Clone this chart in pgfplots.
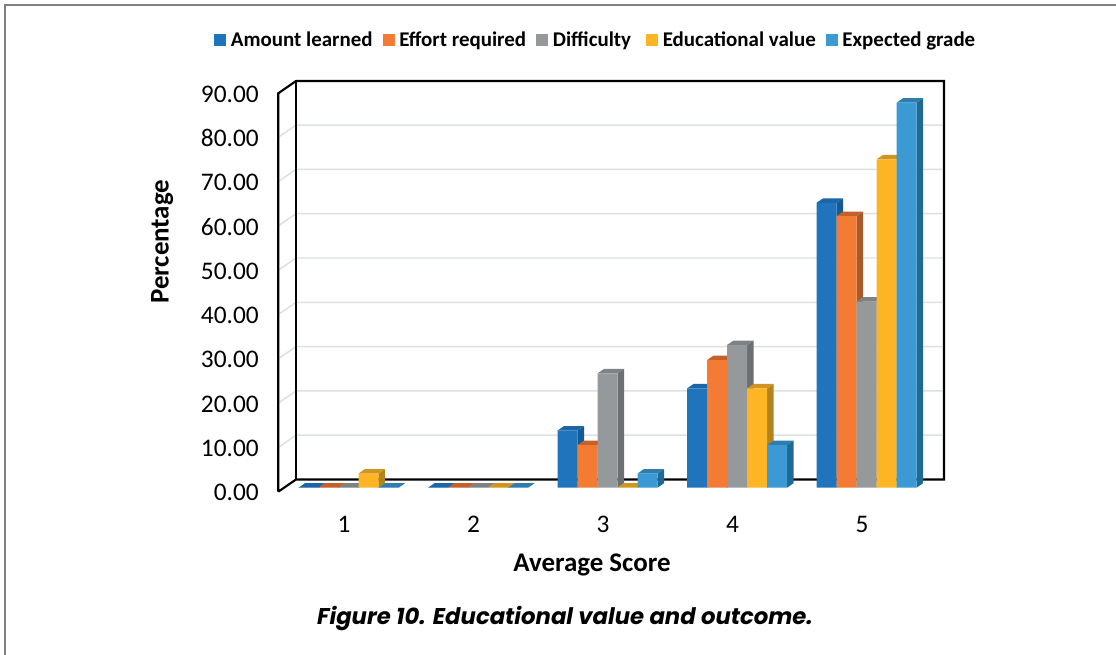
\documentclass[border=0pt]{standalone}
\usepackage{fontspec}
\setmainfont{Carlito}
\newfontfamily\capfont{Poppins}
\usepackage{pgfplots}
\pgfplotsset{compat=1.18}
\pgfplotsset{sq legend/.style={legend image code/.code={\fill[##1] (0pt,-4.5pt) rectangle (9pt,4.5pt);}}}
\definecolor{cA}{HTML}{1F74BC}\definecolor{cAt}{HTML}{1A66A8}\definecolor{cAs}{HTML}{155A93}
\definecolor{cB}{HTML}{F47B34}\definecolor{cBt}{HTML}{C4602A}\definecolor{cBs}{HTML}{A85A28}
\definecolor{cC}{HTML}{95999C}\definecolor{cCt}{HTML}{7E8285}\definecolor{cCs}{HTML}{6D7072}
\definecolor{cD}{HTML}{FDB525}\definecolor{cDt}{HTML}{CF9520}\definecolor{cDs}{HTML}{B3831E}
\definecolor{cE}{HTML}{3B99D4}\definecolor{cEt}{HTML}{2D7EAE}\definecolor{cEs}{HTML}{1F6A95}
\definecolor{gridc}{HTML}{DCE0E1}
\newcommand{\face}[5]{%
  \pgfmathsetmacro\xl{#1-0.3514+#2*0.15444}%
  \pgfmathsetmacro\xr{\xl+0.15444}%
  \pgfmathsetmacro\xlb{\xl+0.0502}%
  \pgfmathsetmacro\xrb{\xr+0.0502}%
  \pgfmathsetmacro\vb{#3+1.016}%
  \addplot[fill=#5,draw=none,forget plot] coordinates {(\xr,0)(\xrb,1.016)(\xrb,\vb)(\xr,#3)} --cycle;
  \addplot[fill=#4,draw=none,forget plot] coordinates {(\xl,#3)(\xlb,\vb)(\xrb,\vb)(\xr,#3)} --cycle;
}
\newcommand{\faces}[8]{%
  \face{1}{#1}{#2}{#7}{#8}\face{2}{#1}{#3}{#7}{#8}\face{3}{#1}{#4}{#7}{#8}\face{4}{#1}{#5}{#7}{#8}\face{5}{#1}{#6}{#7}{#8}%
}
\newcommand{\grid}[1]{%
  \pgfmathsetmacro\gf{#1-0.9}\pgfmathsetmacro\gb{#1+1.85}%
  \addplot[gridc,line width=1.1pt,forget plot] coordinates {(0.4927,\gf)(0.6293,\gb)(5.62,\gb)};
}
\begin{document}
\begin{tikzpicture}
\path[use as bounding box] (0,0) rectangle (837pt,491.25pt);
\draw[color=black!50,line width=1pt] (3.8pt,0) -- (3.8pt,487.5pt) -- (837pt,487.5pt);
\begin{axis}[
  at={(208.725pt,122.475pt)},anchor=south west,
  scale only axis,width=499.275pt,height=302.025pt,
  xmin=0.4927,xmax=5.633,ymin=-0.9,ymax=90,
  clip=false,
  axis line style={draw=none},
  axis x line*=bottom,axis y line*=left,
  major tick length=0pt,minor tick length=0pt,
  ytick={0,10,...,90},
  xtick={1,2,3,4,5},xticklabels={1,2,3,4,5},
  tick label style={font=\fontsize{19}{19}\selectfont,black},
  /pgf/number format/assume math mode=true,
  y tick label style={/pgf/number format/fixed,/pgf/number format/fixed zerofill,/pgf/number format/precision=2,inner sep=0pt,anchor=east,xshift=-14.5pt,yshift=-3.8pt},
  x tick label style={inner sep=0pt,anchor=center,yshift=-24.7pt},
  xlabel={Average Score},ylabel={Percentage},
  every axis x label/.style={at={(axis description cs:0.4712,-0.183)},anchor=center,font=\fontsize{20.2}{20.2}\selectfont\bfseries},
  every axis y label/.style={at={(axis description cs:-0.1745,0.6206)},anchor=center,rotate=90,font=\fontsize{20.2}{20.2}\selectfont\bfseries},
  legend columns=-1,
  legend style={at={(-0.0966,1.1215)},anchor=west,draw=none,fill=none,inner sep=0pt,font=\fontsize{15.7}{15.7}\selectfont\bfseries,
    /tikz/every even column/.append style={column sep=5.5pt},
    /tikz/every odd column/.append style={column sep=1.5pt}},
  legend cell align=left,
]
\grid{10}\grid{20}\grid{30}\grid{40}\grid{50}\grid{60}\grid{70}\grid{80}
\addplot[black,line width=1.6pt,forget plot,line join=miter] coordinates {(0.4927,-0.9)(0.4927,89.03)(0.6293,91.8)(5.633,91.8)(5.633,1.85)(0.6293,1.85)(0.4927,-0.9)};
\addplot[black,line width=1.6pt,forget plot] coordinates {(0.6293,1.85)(0.6293,91.8)};
\faces{0}{0}{0}{12.9}{22.4}{64.3}{cAt}{cAs}
\addplot[ybar,bar width=15pt,bar shift=-26.625pt,fill=cA,draw=none,sq legend] coordinates {(1,0)(2,0)(3,12.9)(4,22.4)(5,64.3)};
\addlegendentry{Amount learned}
\faces{1}{0}{0}{9.6}{28.8}{61.3}{cBt}{cBs}
\addplot[ybar,bar width=15pt,bar shift=-11.625pt,fill=cB,draw=none,sq legend] coordinates {(1,0)(2,0)(3,9.6)(4,28.8)(5,61.3)};
\addlegendentry{Effort required}
\faces{2}{0}{0}{25.8}{32.2}{42.0}{cCt}{cCs}
\addplot[ybar,bar width=15pt,bar shift=3.375pt,fill=cC,draw=none,sq legend] coordinates {(1,0)(2,0)(3,25.8)(4,32.2)(5,42.0)};
\addlegendentry{Difficulty\rule{3.8pt}{0pt}}
\faces{3}{3.2}{0}{0}{22.4}{74.1}{cDt}{cDs}
\addplot[ybar,bar width=15pt,bar shift=18.375pt,fill=cD,draw=none,sq legend] coordinates {(1,3.2)(2,0)(3,0)(4,22.4)(5,74.1)};
\addlegendentry{Educational value}
\faces{4}{0}{0}{3.2}{9.6}{86.9}{cEt}{cEs}
\addplot[ybar,bar width=15pt,bar shift=33.375pt,fill=cE,draw=none,sq legend] coordinates {(1,0)(2,0)(3,3.2)(4,9.6)(5,86.9)};
\addlegendentry{Expected grade}
\end{axis}
\node[anchor=center,inner sep=0pt,font=\capfont\bfseries\itshape\fontsize{17.07}{17.07}\selectfont] at (423.75pt,27pt) {Figure 10. Educational value and outcome.};
\end{tikzpicture}
\end{document}
